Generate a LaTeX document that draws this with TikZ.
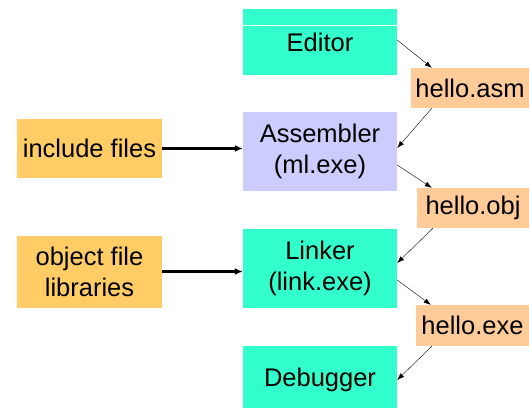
\documentclass[tikz,border=0pt]{standalone}
\usepackage{fontspec}
\setmainfont{Liberation Sans}
\usetikzlibrary{arrows.meta}
\definecolor{toolgreen}{HTML}{33FFCC}
\definecolor{toolblue}{HTML}{CCCCFF}
\definecolor{fileorange}{HTML}{FFCC99}
\definecolor{inputorange}{HTML}{FFCC66}
\begin{document}
\begin{tikzpicture}[
			x=1pt,y=-1pt,
			every node/.style={font=\fontsize{25.5}{31}\selectfont,align=center,inner sep=0pt},
			tool/.style={fill=toolgreen,minimum width=154pt},
			file/.style={fill=fileorange},
			input/.style={fill=inputorange,minimum width=145pt},
			flow/.style={-{Latex[length=7pt,width=5pt]},thin},
			feed/.style={-{Latex[length=8pt,width=7pt]},line width=2.2pt}
		]
		\useasboundingbox (0,0) rectangle (529,408);
		% the tool chain
		\node[tool,minimum height=66pt] (editor) at (320,42) {Editor};
		\node[tool,fill=toolblue,minimum height=79pt] (assembler) at (320,151.5) {Assembler\\(ml.exe)};
		\node[tool,minimum height=79pt] (linker) at (320,268.5) {Linker\\(link.exe)};
		\node[tool,minimum height=62pt] (debugger) at (320,377) {\raisebox{-3pt}[\height][\depth]{Debugger}};
		\draw[white,thin] ([yshift=-16pt]editor.north west) -- ([yshift=-16pt]editor.north east);
		% files passed along
		\node[file,minimum width=118pt,minimum height=40pt] (asmfile) at (470,88) {hello.asm};
		\node[file,minimum width=112pt,minimum height=40pt] (objfile) at (473,208) {hello.obj};
		\node[file,minimum width=113pt,minimum height=41pt] (exefile) at (472.5,325.5) {hello.exe};
		% extra inputs
		\node[input,minimum height=59pt] (incfiles) at (89.5,148.5) {include files};
		\node[input,minimum height=72pt] (objlibs) at (89.5,272) {object file\\libraries};

		\draw[flow] ([yshift=2pt]editor.east) -- ([xshift=21pt]asmfile.north west);
		\draw[flow] ([xshift=21pt]asmfile.south west) -- ([yshift=3.5pt]assembler.east);
		\draw[flow] ([yshift=-13.5pt]assembler.east) -- ([xshift=15pt]objfile.north west);
		\draw[flow] ([xshift=16pt]objfile.south west) -- ([yshift=5.5pt]linker.east);
		\draw[flow] ([yshift=-11.5pt]linker.east) -- ([xshift=15pt]exefile.north west);
		\draw[flow] ([xshift=16pt]exefile.south west) -- ([yshift=-3pt]debugger.east);
		\draw[feed] (incfiles.east) -- (incfiles.east -| assembler.west);
		\draw[feed] ([yshift=0.5pt]objlibs.east) -- ([yshift=0.5pt]objlibs.east -| linker.west);
	\end{tikzpicture}
\end{document}
